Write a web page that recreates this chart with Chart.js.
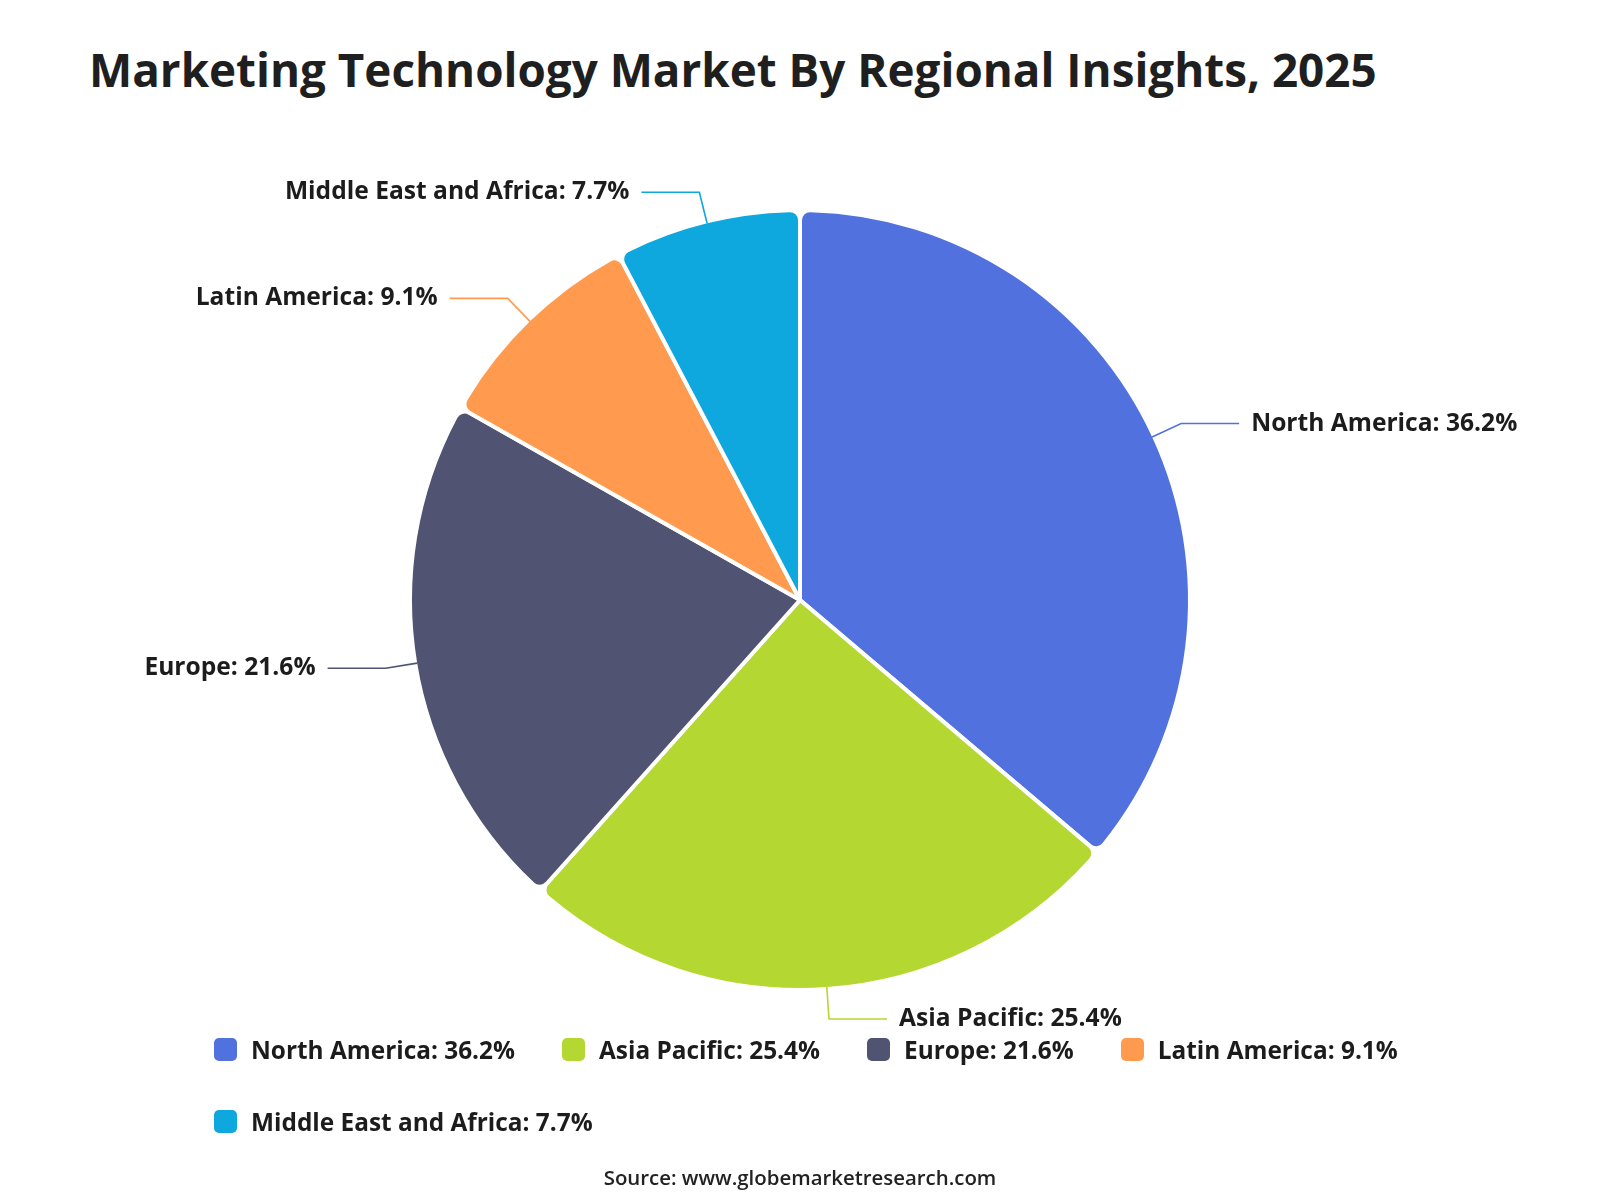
<!DOCTYPE html>
<html>
<head>
<meta charset="utf-8">
<title>Marketing Technology Market By Regional Insights, 2025</title>
<script src="https://cdn.jsdelivr.net/npm/chart.js@4.4.1/dist/chart.umd.min.js"></script>
<style>
  body { margin: 0; background: #fff; font-family: 'Open Sans', sans-serif; color: #1c1c1c; }
  #wrap { position: relative; width: 1600px; height: 1200px; overflow: hidden; }
  #pie { position: absolute; left: 0; top: 0; }
  h1 { position: absolute; left: 89px; top: 46px; margin: 0; font-size: 45.8px; line-height: 46px; font-weight: 700; color: #1f1f1f; white-space: nowrap; }
  #legend { position: absolute; left: 214px; top: 1032px; width: 1250px; display: flex; flex-wrap: wrap; column-gap: 47px; row-gap: 38px; }
  .item { display: flex; align-items: center; height: 34px; font-size: 24.4px; font-weight: 700; white-space: nowrap; }
  .box { width: 23px; height: 23px; border-radius: 5px; margin-right: 14px; }
  #source { position: absolute; left: 0; width: 1600px; top: 1165px; text-align: center; font-size: 20.4px; line-height: 24px; font-weight: 600; color: #222; }
</style>
</head>
<body>
<div id="wrap">
  <h1>Marketing Technology Market By Regional Insights, 2025</h1>
  <canvas id="pie" width="1600" height="1200"></canvas>
  <div id="legend"></div>
  <div id="source">Source: www.globemarketresearch.com</div>
</div>
<script>
// Regioner och andel av marknaden (%).
const regions = ['North America', 'Asia Pacific', 'Europe', 'Latin America', 'Middle East and Africa'];
const shares = [36.2, 25.4, 21.6, 9.1, 7.7];
const regionColors = ['#5171DF', '#B5D732', '#505372', '#FF9A4F', '#0EA8DF'];

const canvas = document.querySelector('#pie');
const legend = document.querySelector('#legend');

// Bygger legenden under diagrammet.
regions.forEach((name, i) => {
  const item = document.createElement('div');
  item.className = 'item';
  item.innerHTML = `<span class="box" style="background:${regionColors[i]}"></span>${name}: ${shares[i]}%`;
  legend.appendChild(item);
});

// Ritar etiketter med en bruten linje ut från varje tårtbit.
const leaderLabels = {
  id: 'leaderLabels',
  afterDatasetsDraw(chart) {
    const ctx = chart.ctx;
    const meta = chart.getDatasetMeta(0);
    const bw = chart.data.datasets[0].borderWidth;
    ctx.save();
    ctx.font = '700 24.6px "Open Sans"';
    ctx.textBaseline = 'middle';
    meta.data.forEach((arc, i) => {
      const p = arc.getProps(['x', 'y', 'startAngle', 'endAngle', 'outerRadius'], true);
      const mid = (p.startAngle + p.endAngle) / 2;
      const r = p.outerRadius - bw / 2;
      const x0 = p.x + Math.cos(mid) * r;
      const y0 = p.y + Math.sin(mid) * r;
      const x1 = p.x + Math.cos(mid) * (r + 32);
      const y1 = p.y + Math.sin(mid) * (r + 32);
      const right = Math.cos(mid) >= 0;
      const x2 = x1 + (right ? 58 : -58);
      ctx.strokeStyle = regionColors[i];
      ctx.lineWidth = 1.6;
      ctx.beginPath();
      ctx.moveTo(x0, y0);
      ctx.lineTo(x1, y1);
      ctx.lineTo(x2, y1);
      ctx.stroke();
      ctx.fillStyle = '#1c1c1c';
      ctx.textAlign = right ? 'left' : 'right';
      ctx.fillText(`${regions[i]}: ${shares[i]}%`, x2 + (right ? 12 : -12), y1);
    });
    ctx.restore();
  }
};

new Chart(canvas, {
  type: 'pie',
  data: {
    labels: regions,
    datasets: [{
      data: shares,
      backgroundColor: regionColors,
      borderColor: '#fff',
      borderWidth: 4,
      borderRadius: 10
    }]
  },
  options: {
    responsive: false,
    animation: false,
    layout: { padding: { left: 408, right: 408, top: 208, bottom: 208 } },
    plugins: {
      legend: { display: false },
      tooltip: { enabled: false }
    }
  },
  plugins: [leaderLabels]
});
</script>
</body>
</html>
